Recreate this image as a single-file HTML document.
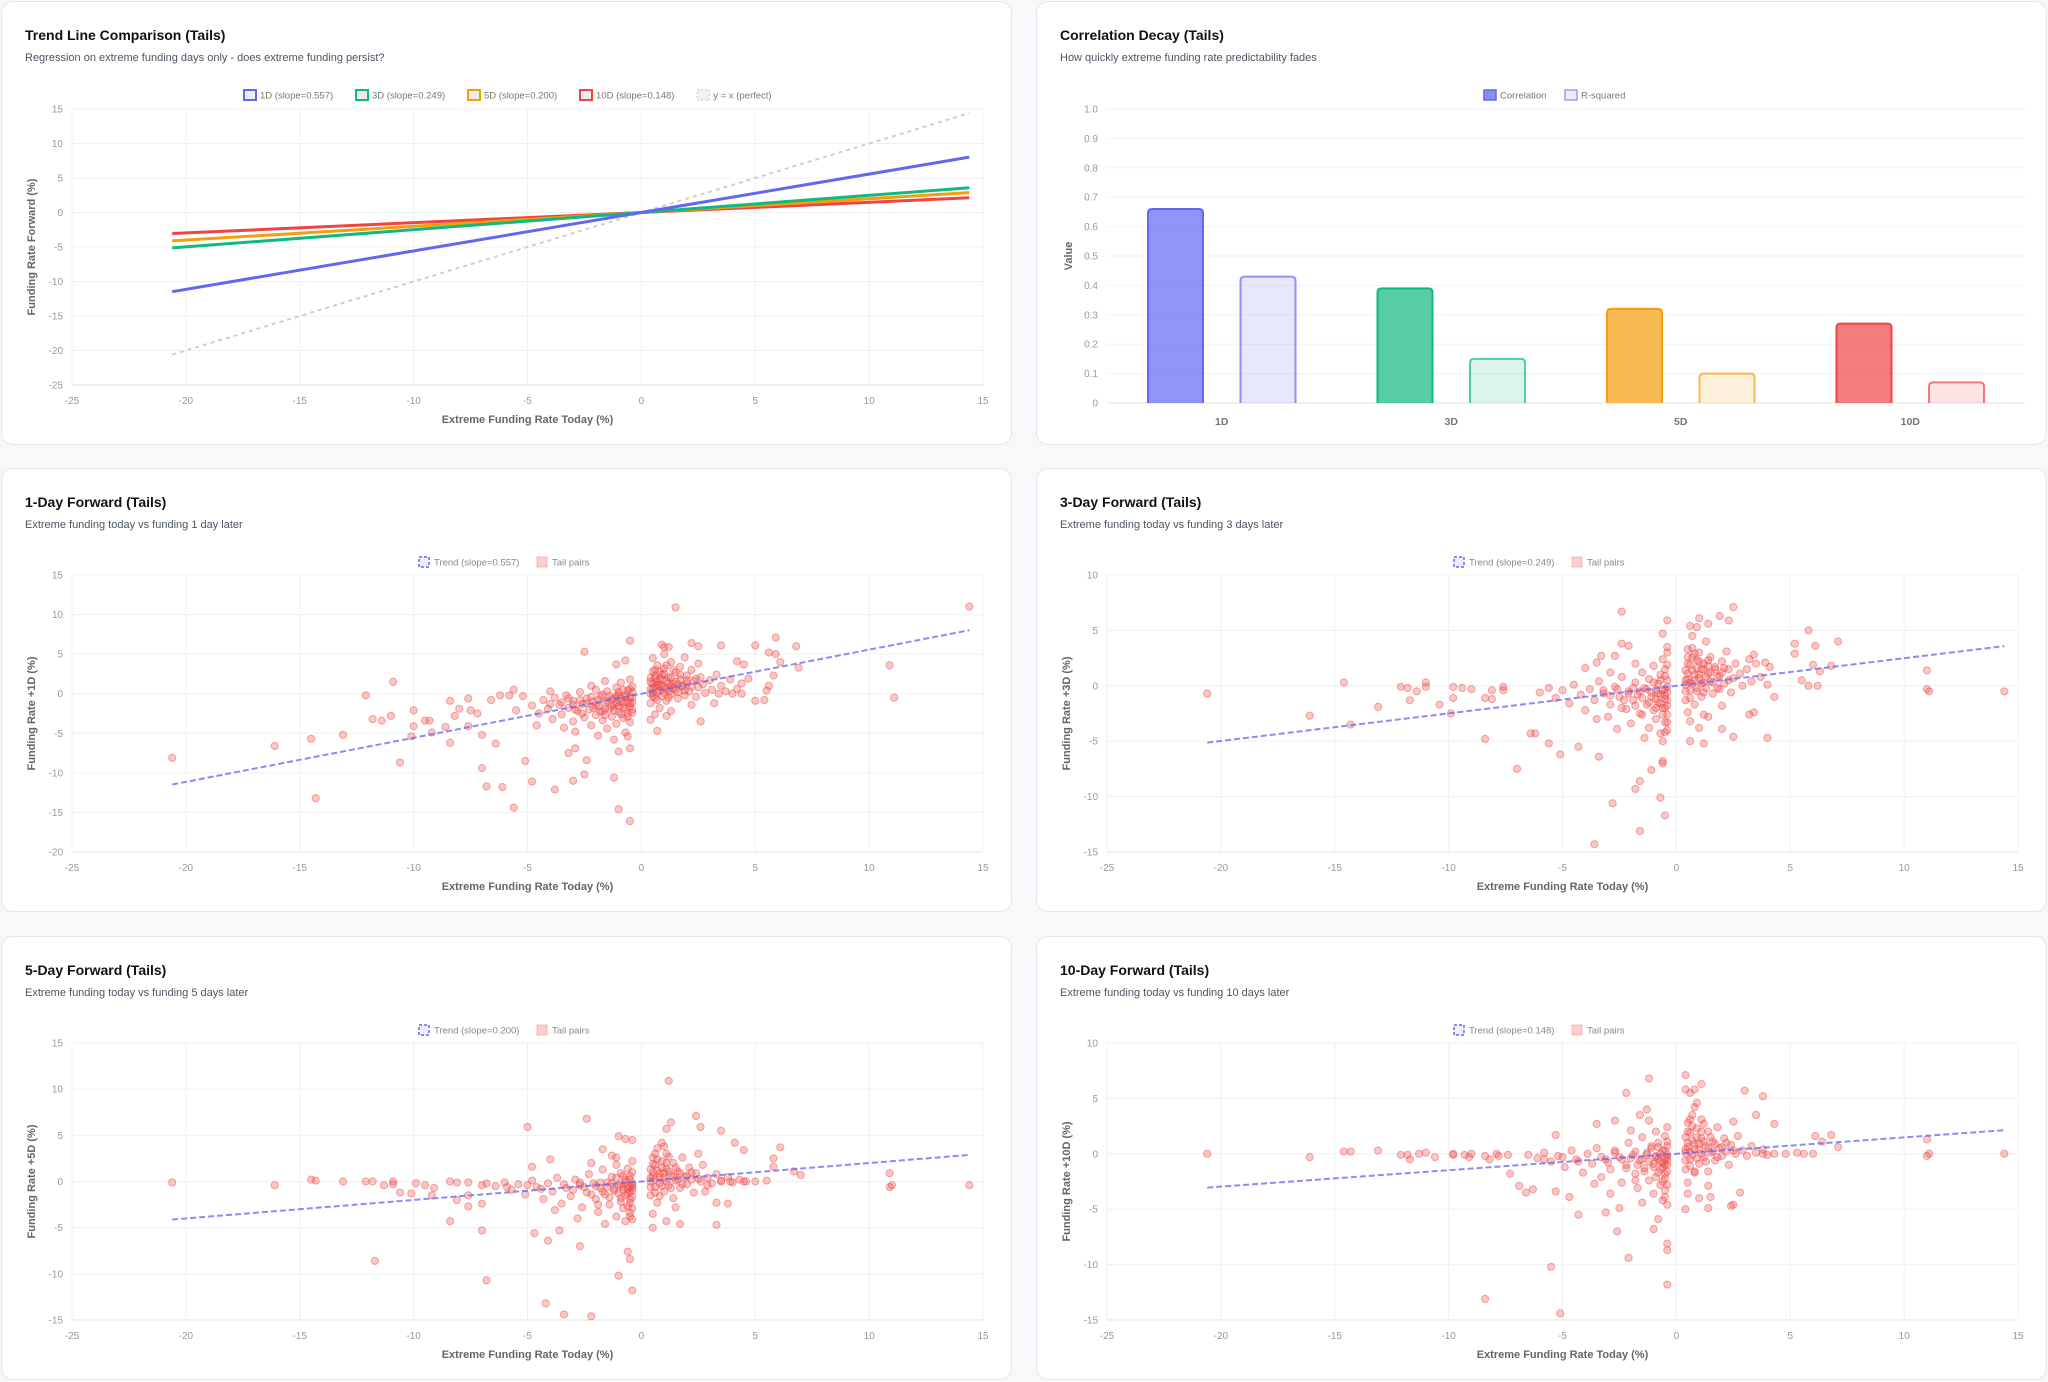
<!DOCTYPE html>
<html><head><meta charset="utf-8"><style>
html,body{margin:0;padding:0;background:#f7f8fa;width:2048px;height:1382px;overflow:hidden;font-family:"Liberation Sans",sans-serif;}
.card{position:absolute;background:#fff;border:1px solid #e3e6ec;border-radius:12px;box-sizing:border-box;width:1011px;height:444px;}
.title{position:absolute;left:23px;top:25px;font-size:14px;font-weight:bold;color:#111;}
.sub{position:absolute;left:23px;top:50px;font-size:11px;color:#4b5563;}
svg{position:absolute;left:0;top:0;}
</style></head><body>
<div class="card" style="left:1px;top:1px"><div class="title">Trend Line Comparison (Tails)</div><div class="sub">Regression on extreme funding days only - does extreme funding persist?</div><svg id="c0" width="1011" height="444"></svg></div>
<div class="card" style="left:1036px;top:1px"><div class="title">Correlation Decay (Tails)</div><div class="sub">How quickly extreme funding rate predictability fades</div><svg id="c1" width="1011" height="444"></svg></div>
<div class="card" style="left:1px;top:468px"><div class="title">1-Day Forward (Tails)</div><div class="sub">Extreme funding today vs funding 1 day later</div><svg id="s1" width="1011" height="444"></svg></div>
<div class="card" style="left:1036px;top:468px"><div class="title">3-Day Forward (Tails)</div><div class="sub">Extreme funding today vs funding 3 days later</div><svg id="s3" width="1011" height="444"></svg></div>
<div class="card" style="left:1px;top:936px"><div class="title">5-Day Forward (Tails)</div><div class="sub">Extreme funding today vs funding 5 days later</div><svg id="s5" width="1011" height="444"></svg></div>
<div class="card" style="left:1036px;top:936px"><div class="title">10-Day Forward (Tails)</div><div class="sub">Extreme funding today vs funding 10 days later</div><svg id="s10" width="1011" height="444"></svg></div>
<script>
var horizons=['1D','3D','5D','10D'];
var slopes=[0.557,0.249,0.200,0.148];
var colors=['#6366f1','#10b981','#f59e0b','#ef4444'];
var trendXRange=[-20.6,14.4];
var xTicks=[-25,-20,-15,-10,-5,0,5,10,15];
var corrValues=[0.66,0.39,0.32,0.27];
var r2Values=[0.43,0.15,0.10,0.07];
var barTicks=[0,0.1,0.2,0.3,0.4,0.5,0.6,0.7,0.8,0.9,1.0];
var trendYTicks=[15,10,5,0,-5,-10,-15,-20,-25];
var yTicks1=[15,10,5,0,-5,-10,-15,-20];
var yTicks3=[10,5,0,-5,-10,-15];
var yTicks5=[15,10,5,0,-5,-10,-15];
var yTicks10=[10,5,0,-5,-10,-15];
var pts1=[-20.6,-8.1,-16.1,-6.6,-14.5,-5.7,-14.3,-13.2,-13.1,-5.2,-12.1,-0.2,-10.9,1.5,-11.8,-3.2,-11.4,-3.4,-11,-2.8,-10.6,-8.7,-10,-2.1,-10,-4.1,-9.5,-3.4,-9.3,-3.4,-10.1,-5.4,-9.2,-4.9,-8.6,-4.2,-8.4,-0.9,-8.4,-6.2,-8.2,-2.8,-8,-1.9,-7.6,-0.6,-7.5,-2.1,-7.6,-4.1,-7.2,-2.5,-7,-5.2,-7,-9.4,-6.8,-11.7,-6.1,-11.8,-6.6,-0.8,-6.2,-0.2,-5.8,-0.2,-5.6,0.5,-6.4,-6.3,-5.6,-14.4,-5.1,-8.5,-4.8,-11.1,-3.8,-12.1,-3,-11,-2.5,-10.2,-1.2,-10.6,-1,-14.6,-0.5,-16.1,-2.5,5.3,-0.5,6.7,-0.7,4.2,-1.1,3.7,-3.2,-7.5,-2.9,-6.9,-2.4,-8.4,-1,-7.3,-0.5,-6.9,1.5,10.9,14.4,11,10.9,3.6,11.1,-0.5,5.9,7.1,6.8,6,5,6.1,3.5,6.1,2.2,6.4,2.5,6,0.9,6.2,1,5.9,1.2,5.9,5.6,5.2,5.9,5,6.1,4,6.9,3.3,5.8,2.3,5.6,1,5.5,0.4,5,-0.9,5.4,-0.8,4.7,1.9,4.2,4.1,4.5,3.7,3.2,-1.2,2.6,-3.5,0.7,-4.7,1.1,-2.8,0.4,-3.3,3.4,0,4,0,4.4,0,
-4.8,-1.5,-4.5,-2.5,-4.3,-0.8,-4.1,-1.9,-3.9,-3.2,-3.8,-0.5,-3.6,-1.4,-3.5,-2.6,-3.3,-0.2,-3.2,-1.8,-3.0,-3.5,-3.0,-0.9,-2.8,-2.2,-2.7,0.2,-2.6,-1.3,-2.5,-3.0,-2.4,-0.6,-2.3,-2.0,-2.2,-4.0,-2.1,-1.0,-2.0,0.5,-2.0,-2.7,-1.9,-1.6,-1.8,-0.3,-1.7,-3.4,-1.7,-2.2,-1.6,-1.1,-1.5,0.3,-1.5,-4.4,-1.4,-1.9,-1.3,-0.7,-1.3,-2.9,-1.2,-1.4,-1.1,0.8,-1.1,-3.8,-1.0,-0.2,-1.0,-2.3,-0.9,-1.0,-0.9,1.4,-0.8,-3.1,-0.8,-1.7,-0.7,-0.4,-0.7,-4.9,-0.6,0.4,-0.6,-2.5,-0.5,-1.2,-0.5,1.8,-0.5,-3.6,-0.4,-0.5,-0.4,-2.0,-0.4,0.9,-3.4,-4.3,-2.9,-4.8,-2.2,1.0,-1.6,1.6,-4.0,0.3,-5.2,-0.3,-5.5,-2.1,-4.6,-4.0,-1.9,-5.3,-1.2,-5.8,-0.6,-5.4,
0.4,0.0,0.4,1.5,0.4,-1.2,0.5,2.8,0.5,0.7,0.6,-0.5,0.6,1.9,0.7,3.6,0.7,0.2,0.8,1.1,0.8,-1.8,0.9,2.4,0.9,-0.3,1.0,0.8,1.0,3.2,1.1,1.6,1.1,-0.9,1.2,0.3,1.2,2.1,1.3,4.0,1.3,-0.1,1.4,1.2,1.5,2.7,1.5,0.5,1.6,-0.6,1.7,1.8,1.7,3.4,1.8,0.9,1.9,-0.2,2.0,2.3,2.0,1.3,2.1,0.3,2.2,3.0,2.3,1.6,2.4,-0.4,2.5,0.8,2.6,2.1,2.7,1.2,2.8,0.1,3.0,1.7,3.1,0.5,3.3,2.4,3.5,1.0,3.7,0.3,3.9,1.8,4.2,0.6,4.4,1.3,0.5,4.5,1.0,5.0,1.9,4.6,2.5,3.8,0.6,-2.6,1.3,-2.2,2.2,-1.4,
-2.4,-1.2,-2.2,-0.4,-2.0,-1.5,-1.9,-0.8,-1.8,-2.3,-1.7,-0.1,-1.6,-1.9,-1.5,-0.9,-1.4,-0.3,-1.3,-1.6,-1.2,-2.1,-1.2,-0.6,-1.1,-1.2,-1.0,0.2,-1.0,-1.6,-0.9,-0.6,-0.9,-2.6,-0.8,-1.1,-0.8,0.5,-0.7,-1.9,-0.7,-0.2,-0.6,-1.0,-0.6,-2.9,-0.5,-0.5,-0.5,0.6,-0.5,-1.6,-0.4,-1.1,-0.4,-2.4,-0.4,0.2,-3.0,-1.4,-2.7,-0.8,-3.5,-1.1,-2.9,-2.0,-4.0,-1.3,-3.2,-0.6,-2.6,-2.5,-2.1,-1.8,-1.6,-2.7,-1.1,-0.3,
0.4,0.6,0.5,1.3,0.5,-0.3,0.6,0.9,0.6,2.3,0.7,1.5,0.7,-0.8,0.8,0.4,0.8,2.8,0.9,1.0,0.9,1.8,1.0,0.1,1.0,2.5,1.1,0.6,1.2,1.3,1.2,-0.5,1.3,2.0,1.4,0.7,1.4,3.0,1.5,1.5,1.6,0.2,1.7,2.4,1.8,1.0,1.9,0.4,2.0,1.7,2.2,0.9,2.4,1.9,0.4,2.0,0.6,3.0,1.1,3.6,0.5,0.1,0.7,1.1,1.3,0.9,1.6,1.2,0.8,1.9];
var pts3=[-20.6,-0.7,-16.1,-2.7,-14.6,0.3,-14.3,-3.5,-13.1,-1.9,-12.1,-0.1,-11.8,-0.2,-11.4,-0.5,-11,0.3,-11,-0.1,-11.7,-1.3,-10.4,-1.7,-9.8,-0.1,-9.8,-1.1,-9.4,-0.2,-9,-0.3,-9.9,-2.5,-8.4,-4.8,-8.4,-1.1,-8.1,-0.4,-8.1,-1.2,-7.6,-0.1,-7.6,-0.4,-7,-7.5,-6.4,-4.3,-6.2,-4.3,-5.6,-5.2,-5.1,-6.2,-4.3,-5.5,-3.4,-6.4,-2.8,-10.6,-3.6,-14.3,-1.6,-13.1,-1.8,-9.3,-1.6,-8.6,-0.7,-10.1,-0.5,-11.7,-1.1,-7.6,-0.6,-7,-0.6,-6.8,-2.4,6.7,-0.4,5.9,-0.6,4.7,-0.4,3.5,-2.4,3.8,-2.1,3.6,-4,1.6,-3.5,2.1,-3.3,2.7,-2.7,2.7,1,6.1,0.6,5.4,0.9,5.3,1.4,5.6,1.9,6.3,2.3,5.9,2.5,7.1,5.8,5,5.2,3.8,5.2,2.9,6.1,3.6,7.1,4,6,1.9,6.3,1.3,6.8,1.8,5.5,0.5,5.8,0,6.2,0,11,1.4,11,-0.3,11.1,-0.5,14.4,-0.5,4,-4.7,2.5,-4.6,2,-3.9,0.6,-5,1.2,-5.2,1.4,-2.8,3.2,-2.6,3.4,-2.4,4.3,-1,4.1,1.7,3.9,2.1,3.4,2.8,3.2,2.4,
-6.0,-0.6,-5.6,-0.2,-5.3,-1.1,-5.0,-0.4,-4.7,-1.6,-4.5,0.1,-4.2,-0.8,-4.0,-2.2,-3.8,-0.3,-3.6,-1.3,-3.4,0.4,-3.2,-0.7,-3.0,-2.8,-2.9,-1.7,-2.7,-0.1,-2.5,-1.0,-2.4,0.8,-2.2,-2.1,-2.1,-0.5,-2.0,-3.4,-1.9,-1.3,-1.8,0.3,-1.7,-0.8,-1.6,-2.5,-1.5,1.2,-1.4,-0.2,-1.3,-1.7,-1.2,-3.8,-1.2,0.6,-1.1,-1.0,-1.0,-2.2,-1.0,1.8,-0.9,-0.4,-0.9,-3.0,-0.8,0.2,-0.8,-1.5,-0.7,-4.3,-0.7,-0.8,-0.7,1.0,-0.6,-2.0,-0.6,2.4,-0.6,-5.0,-0.5,-0.3,-0.5,-1.2,-0.5,-3.3,-0.5,1.5,-0.4,-0.6,-0.4,-2.6,-0.4,0.5,-0.4,-4.0,-0.4,-1.8,-0.4,3.0,-1.4,-4.7,-2.6,-3.9,-3.5,-3.0,-1.8,2.0,-2.9,1.2,
0.4,0.1,0.4,1.4,0.4,-1.3,0.5,2.6,0.5,0.6,0.5,-2.4,0.6,-0.4,0.6,1.9,0.7,3.4,0.7,0.2,0.8,1.0,0.8,-1.7,0.9,2.3,0.9,-0.5,1.0,0.7,1.0,3.0,1.1,1.5,1.1,-1.0,1.2,0.3,1.2,2.0,1.3,-0.2,1.3,4.0,1.4,1.1,1.5,2.6,1.5,0.4,1.6,-0.7,1.7,1.7,1.8,0.8,1.9,-0.3,2.0,2.2,2.0,1.2,2.1,0.2,2.2,3.1,2.3,1.5,2.4,-0.6,2.5,0.7,2.6,2.0,2.8,1.1,2.9,0.0,3.1,1.5,3.3,0.4,3.5,2.0,3.7,0.8,4.0,0.1,0.6,-3.2,1.2,-2.6,2.0,-1.8,0.7,4.5,1.0,-3.8,
-3.2,-0.4,-2.9,-0.9,-2.6,-0.3,-2.3,-1.3,-2.1,-0.7,-1.9,-0.2,-1.8,-1.8,-1.6,-0.5,-1.5,-1.1,-1.3,-0.3,-1.2,-1.5,-1.1,-0.6,-1.0,0.3,-0.9,-1.2,-0.9,-2.0,-0.8,-0.7,-0.7,0.5,-0.7,-1.6,-0.6,-0.4,-0.6,-2.6,-0.5,-0.9,-0.5,0.9,-0.5,-2.0,-0.4,-1.3,-0.4,-0.1,-0.4,-3.3,-0.4,1.9,-0.5,-4.2,-1.5,-2.6,-2.4,-2.0,
0.4,0.5,0.4,-0.5,0.5,1.1,0.5,2.0,0.6,0.3,0.6,-1.1,0.7,1.4,0.7,2.6,0.8,0.5,0.9,1.6,0.9,-0.2,1.0,1.0,1.0,2.2,1.1,0.2,1.2,1.5,1.2,-0.6,1.3,0.8,1.4,2.3,1.5,1.2,1.6,0.3,1.7,1.5,1.8,-0.2,1.9,0.9,2.1,1.6,2.3,0.5,0.5,3.3,0.8,2.9,1.4,1.8];
var pts5=[-20.6,-0.1,-16.1,-0.4,-14.5,0.2,-14.3,0.1,-13.1,0,-12.1,0,-11.8,0,-11.3,-0.4,-10.9,0,-10.9,-0.3,-10.6,-1.2,-10.1,-1.3,-9.9,-0.2,-9.5,-0.4,-9.2,-1.5,-9.1,-0.7,-11.7,-8.6,-8.4,-4.3,-6.8,-10.7,-7,-5.3,-8.4,0,-8.1,-0.1,-7.6,-0.1,-7,-0.4,-7.6,-2.7,-7,-2.4,-8.1,-2,-7.6,-1.5,-5,5.9,-2.4,6.8,-4,2.4,-4.8,1.6,-4.2,-13.2,-3.4,-14.4,-2.2,-14.6,-1,-10.2,-0.4,-11.8,-0.5,-8.4,-0.6,-7.6,-4.1,-6.4,-2.7,-7,-4.7,-5.6,-3.6,-5.3,-1,4.9,-0.7,4.6,-0.4,4.5,-1.7,3.5,-1.1,2.6,1.2,10.9,2.4,7.1,1.3,6.4,1.1,5.7,2.6,5.9,3.5,5.5,4.1,4.2,4.5,3.4,6.1,3.7,5.8,2.5,5.8,1.6,7,0.7,6.7,1.1,10.9,0.9,10.9,-0.6,11,-0.4,14.4,-0.4,3.3,-4.7,3.8,-2.4,3.3,-2.3,1.7,-4.6,1.1,-4.3,0.5,-5,2.8,-1.1,2.9,-0.4,4.5,0,5,0,5.5,0.1,3.9,0,3.5,0,
-6.8,-0.2,-6.4,-0.5,-6.0,-0.1,-5.7,-0.9,-5.4,-0.3,-5.1,-1.4,-4.8,0.1,-4.6,-0.6,-4.3,-1.9,-4.1,-0.2,-3.9,-1.1,-3.7,0.4,-3.5,-2.4,-3.3,-0.7,-3.1,-1.6,-2.9,0.2,-2.7,-0.4,-2.6,-2.8,-2.4,-1.2,-2.3,0.8,-2.1,-0.2,-2.0,-1.9,-1.9,-3.3,-1.8,-0.7,-1.7,1.3,-1.6,-1.4,-1.5,-0.1,-1.4,-2.5,-1.3,0.5,-1.2,-1.0,-1.1,-3.8,-1.1,1.8,-1.0,-0.4,-0.9,-1.8,-0.9,0.9,-0.8,-2.9,-0.8,-0.9,-0.7,0.2,-0.7,-4.3,-0.6,-1.3,-0.6,1.4,-0.5,-0.5,-0.5,-2.3,-0.5,-3.4,-0.5,0.6,-0.4,-1.0,-0.4,-4.1,-0.4,2.2,-0.4,-0.2,-0.4,-1.7,-2.8,-4.0,-1.6,-4.6,-3.8,-3.1,-2.2,2.0,-1.3,2.8,
0.4,0.0,0.4,1.3,0.4,-1.5,0.5,2.6,0.5,0.5,0.6,-0.6,0.6,1.8,0.7,3.6,0.7,-2.3,0.8,0.9,0.8,-0.2,0.9,2.2,1.0,0.4,1.0,-1.1,1.1,1.4,1.1,3.0,1.2,-0.4,1.3,0.7,1.4,2.0,1.4,-1.8,1.5,0.1,1.6,1.1,1.7,-0.7,1.8,2.6,1.9,0.5,2.0,-0.3,2.1,1.5,2.2,0.2,2.3,-1.2,2.4,0.9,2.6,0.0,2.7,1.8,2.9,0.4,3.1,-0.2,3.3,0.8,3.5,0.1,3.8,0.5,4.0,-0.1,4.3,0.2,4.6,0.0,0.5,-3.5,1.0,3.8,1.5,-2.8,2.5,3.0,0.9,4.2,
-3.4,-0.3,-3.0,-0.9,-2.7,-0.1,-2.5,-0.6,-2.2,-1.4,-2.0,-0.5,-1.8,-0.1,-1.7,-1.1,-1.5,-0.6,-1.4,-1.7,-1.3,-0.2,-1.2,-0.8,-1.1,0.4,-1.0,-1.3,-0.9,-0.3,-0.9,-2.2,-0.8,-0.6,-0.8,0.6,-0.7,-1.5,-0.7,-0.1,-0.6,-0.8,-0.6,-2.7,-0.5,-1.1,-0.5,0.2,-0.5,-1.9,-0.4,-0.7,-0.4,-2.9,-0.4,1.0,-0.4,-0.4,-0.5,-3.8,-1.9,-2.5,-4.4,-0.8,-5.0,-0.4,-5.9,-0.6,
0.4,0.4,0.4,-0.6,0.5,1.0,0.5,1.9,0.6,0.2,0.6,-1.2,0.7,1.2,0.7,2.4,0.8,0.4,0.9,1.5,0.9,-0.5,1.0,0.9,1.1,2.0,1.1,0.0,1.2,1.1,1.3,-0.7,1.4,0.5,1.5,1.5,1.6,0.2,1.7,0.9,1.8,-0.3,2.0,0.6,2.2,1.0,2.5,0.3,0.6,3.0,1.2,2.7,0.8,-1.6];
var pts10=[-20.6,0,-16.1,-0.3,-14.6,0.2,-14.3,0.2,-13.1,0.3,-12.1,-0.1,-11.8,-0.1,-11.7,-0.5,-11.3,0,-11,0.1,-10.6,-0.3,-9.8,0,-9.8,-0.1,-9.3,-0.1,-9,0,-9.1,-0.3,-8.4,-0.2,-7.9,0,-8.2,-0.5,-7.4,-0.1,-7.3,-1.8,-7.8,-0.2,-8.4,-13.1,-5.1,-14.4,-5.5,-10.2,-2.1,-9.4,-0.4,-11.8,-0.4,-8.7,-0.4,-8.1,-1,-6.8,-2.6,-7,-0.8,-5.9,-6.9,-2.9,-6.6,-3.5,-6.3,-3.2,-5.3,-3.4,-4.7,-3.9,-4.3,-5.5,-3.1,-5.3,-2.5,-4.9,-5.3,1.7,-3.5,2.7,-2.7,3,-2.2,5.5,-1.3,4,-1.2,6.8,-1.6,3.5,0.4,7.1,0.4,5.8,0.6,5.5,0.8,5.8,1.1,6.3,0.9,4.6,3,5.7,3.8,5.2,3.5,3.5,4.3,2.7,1.4,-4.9,0.4,-5,2.4,-4.7,2.5,-4.6,2.8,-3.5,1.5,-3.9,6.1,1.6,6.8,1.7,7.1,0.6,6.4,1.1,11,1.3,11.1,0,11,-0.2,14.4,0,4.3,0,4.8,0,5.3,0.1,5.6,0,6,0,3.8,0,
-6.5,-0.1,-6.1,-0.4,-5.8,0.1,-5.5,-0.7,-5.2,-0.2,-4.9,-1.2,-4.6,0.3,-4.4,-0.5,-4.1,-1.7,-3.9,0.0,-3.7,-0.9,-3.5,0.5,-3.3,-2.1,-3.1,-0.5,-2.9,-1.4,-2.7,0.3,-2.5,-0.3,-2.4,-2.6,-2.2,-1.0,-2.1,1.0,-1.9,-0.1,-1.8,-1.8,-1.7,-3.1,-1.6,-0.6,-1.5,1.5,-1.4,-1.3,-1.3,0.1,-1.2,-2.4,-1.1,0.7,-1.0,-0.9,-1.0,-3.6,-0.9,2.0,-0.9,-0.3,-0.8,-1.7,-0.8,1.0,-0.7,-2.8,-0.7,-0.7,-0.6,0.3,-0.6,-4.2,-0.6,-1.2,-0.5,1.6,-0.5,-0.4,-0.5,-2.2,-0.5,-3.3,-0.4,0.7,-0.4,-1.0,-0.4,-4.6,-0.4,2.4,-0.4,-0.1,-0.4,-1.6,-2.9,-3.6,-1.5,-4.4,-3.6,-2.7,-2.0,2.1,-1.2,3.0,
0.4,0.1,0.4,1.5,0.4,-1.4,0.5,2.8,0.5,0.6,0.5,-2.6,0.6,-0.5,0.6,1.9,0.7,3.5,0.7,-0.1,0.8,0.9,0.8,-1.7,0.9,2.3,1.0,0.4,1.0,-0.9,1.1,1.4,1.1,3.1,1.2,-0.3,1.3,0.7,1.4,2.0,1.4,-1.6,1.5,0.1,1.6,1.1,1.7,-0.6,1.8,2.4,1.9,0.5,2.0,-0.2,2.1,1.4,2.2,0.2,2.3,-1.0,2.4,0.8,2.6,0.0,2.7,1.6,2.9,0.3,3.1,-0.2,3.3,0.7,3.5,0.1,3.8,0.4,4.0,-0.1,0.5,-3.6,0.8,4.2,1.4,-2.9,2.5,2.9,1.0,-4.0,
-3.3,-0.3,-3.0,-0.8,-2.7,0.1,-2.4,-0.5,-2.2,-1.3,-2.0,-0.4,-1.8,0.2,-1.7,-1.0,-1.5,-0.5,-1.4,-1.6,-1.3,-0.1,-1.2,-0.7,-1.1,0.5,-1.0,-1.2,-0.9,-0.2,-0.9,-2.1,-0.8,-0.5,-0.8,0.6,-0.7,-1.4,-0.7,0.0,-0.6,-0.8,-0.6,-2.5,-0.5,-1.0,-0.5,0.3,-0.5,-1.8,-0.4,-0.6,-0.4,-2.8,-0.4,1.1,-0.4,-0.3,-0.5,-3.9,-1.8,-2.4,-4.3,-0.7,-5.0,-0.3,-5.8,-0.5,
0.4,0.4,0.4,-0.6,0.5,1.0,0.5,2.0,0.6,0.2,0.6,-1.1,0.7,1.2,0.7,2.5,0.8,0.4,0.9,1.5,0.9,-0.4,1.0,0.9,1.1,2.0,1.1,0.0,1.2,1.1,1.3,-0.7,1.4,0.5,1.5,1.5,1.6,0.2,1.7,0.9,1.8,-0.3,2.0,0.6,2.2,1.0,2.5,0.3,0.6,3.1,1.2,2.7,0.8,-1.6];

var NS='http://www.w3.org/2000/svg';
function mk(svg,tag,attrs,name){var e=document.createElementNS(NS,tag);for(var k in attrs)e.setAttribute(k,attrs[k]);


svg.appendChild(e);return e;}
function txt(svg,x,y,s,attrs,name){var t=mk(svg,'text',Object.assign({x:x,y:y,'font-family':'Liberation Sans, sans-serif'},attrs),name);t.textContent=s;return t;}

function axes(svg,L,R,T,B,xmin,xmax,yt,ylabel){
  var ymax=yt[0],ymin=yt[yt.length-1];
  var sx=function(v){return L+(v-xmin)/(xmax-xmin)*(R-L);};
  var sy=function(v){return B-(v-ymin)/(ymax-ymin)*(B-T);};
  xTicks.forEach(function(v){mk(svg,'line',{x1:sx(v),x2:sx(v),y1:T,y2:B,stroke:'#f0f0f0'},'x-gridline');
    txt(svg,sx(v),B+19,String(v),{'font-size':10,fill:'#999','text-anchor':'middle'},'x-tick-label');});
  yt.forEach(function(v){mk(svg,'line',{x1:L,x2:R,y1:sy(v),y2:sy(v),stroke:v===ymin?'#e2e2e2':'#f0f0f0'},'y-gridline');
    txt(svg,L-9,sy(v)+3.5,String(v),{'font-size':10,fill:'#999','text-anchor':'end'},'y-tick-label');});
  txt(svg,(L+R)/2,B+38,'Extreme Funding Rate Today (%)',{'font-size':11,'font-weight':'bold',fill:'#666','text-anchor':'middle'},'x-axis-title');
  txt(svg,0,0,ylabel,{'font-size':11,'font-weight':'bold',fill:'#666','text-anchor':'middle',transform:'translate('+(L-37)+','+((T+B)/2)+') rotate(-90)'},'y-axis-title');
  return {sx:sx,sy:sy};
}

(function(){
  var svg=document.getElementById('c0');
  var a=axes(svg,70,981,107,383,-25,15,trendYTicks,'Funding Rate Forward (%)');
  mk(svg,'line',{x1:a.sx(trendXRange[0]),y1:a.sy(trendXRange[0]),x2:a.sx(trendXRange[1]),y2:a.sy(trendXRange[1]),stroke:'#cfcfcf','stroke-width':2,'stroke-dasharray':'4,4'},'perfect-line');
  for(var i=3;i>=0;i--){
    mk(svg,'line',{x1:a.sx(trendXRange[0]),y1:a.sy(trendXRange[0]*slopes[i]),x2:a.sx(trendXRange[1]),y2:a.sy(trendXRange[1]*slopes[i]),stroke:colors[i],'stroke-width':3},'trend-line-'+horizons[i].toLowerCase());
  }
  var labels=horizons.map(function(h,i){return h+' (slope='+slopes[i].toFixed(3)+')';}).concat(['y = x (perfect)']);
  var x=242;
  labels.forEach(function(l,i){
    var c=i<4?colors[i]:'#ddd';
    mk(svg,'rect',{x:x,y:88,width:12,height:10,fill:i<4?'#eee':'#f3f3f3',stroke:c,'stroke-width':2,'stroke-dasharray':i<4?'none':'2,2'},'legend-swatch');
    txt(svg,x+16,96.5,l,{'font-size':9.5,fill:'#777'},'legend-entry');
    x+=16+l.length*5.25+12;
  });
})();

(function(){
  var svg=document.getElementById('c1');
  var L=70,R=988,T=107,B=401;
  var sy=function(v){return B-v*(B-T);};
  barTicks.forEach(function(v){mk(svg,'line',{x1:L,x2:R,y1:sy(v),y2:sy(v),stroke:v===0?'#e2e2e2':'#f2f2f2'},'y-gridline');
    txt(svg,L-9,sy(v)+3.5,v===0||v===1?(v===1?'1.0':'0'):v.toFixed(1),{'font-size':10,fill:'#999','text-anchor':'end'},'y-tick-label');});
  txt(svg,0,0,'Value',{'font-size':11,'font-weight':'bold',fill:'#666','text-anchor':'middle',transform:'translate('+(L-35)+','+((T+B)/2)+') rotate(-90)'},'y-axis-title');
  var bw=(R-L)/4;
  function bar(cx,v,fill,stroke,name){var w=55,y=sy(v),x=cx-w/2,r=4;
    mk(svg,'path',{d:'M'+x+','+B+'V'+(y+r)+'Q'+x+','+y+' '+(x+r)+','+y+'H'+(x+w-r)+'Q'+(x+w)+','+y+' '+(x+w)+','+(y+r)+'V'+B,fill:fill,stroke:stroke,'stroke-width':2},name);}
  horizons.forEach(function(h,i){
    var bx=L+i*bw;
    bar(bx+68.5,corrValues[i],colors[i]+'b3',colors[i],'bar-corr-'+h.toLowerCase());
    bar(bx+161,r2Values[i],colors[i]+'26',colors[i]+'b3','bar-r2-'+h.toLowerCase());
    txt(svg,bx+bw/2,B+22,h,{'font-size':10.5,'font-weight':'bold',fill:'#777','text-anchor':'middle'},'x-tick-label');
  });
  mk(svg,'rect',{x:447,y:88,width:12,height:10,fill:'#8b8df3',stroke:'#6366f1','stroke-width':1.5},'legend-swatch');
  txt(svg,463,96.5,'Correlation',{'font-size':9.5,fill:'#777'},'legend-entry');
  mk(svg,'rect',{x:528,y:88,width:12,height:10,fill:'#ececfd',stroke:'#9b9df5','stroke-width':1.5},'legend-swatch');
  txt(svg,544,96.5,'R-squared',{'font-size':9.5,fill:'#777'},'legend-entry');
})();

function scatter(id,pts,slope,yt,lab,legX){
  var svg=document.getElementById(id);
  var a=axes(svg,70,981,106,383,-25,15,yt,'Funding Rate +'+lab+' (%)');
  for(var i=0;i<pts.length;i+=2){
    mk(svg,'circle',{cx:a.sx(pts[i]),cy:a.sy(pts[i+1]),r:3.6,fill:'rgba(239,68,68,0.3)',stroke:'rgba(239,68,68,0.45)','stroke-width':1},'tail-point');
  }
  mk(svg,'line',{x1:a.sx(trendXRange[0]),y1:a.sy(trendXRange[0]*slope),x2:a.sx(trendXRange[1]),y2:a.sy(trendXRange[1]*slope),stroke:'rgba(99,102,241,0.75)','stroke-width':2,'stroke-dasharray':'6,3'},'trend-line');
  mk(svg,'rect',{x:legX,y:88,width:10,height:10,fill:'#eef',stroke:'#6366f1','stroke-width':1.5,'stroke-dasharray':'3,2'},'legend-swatch');
  txt(svg,legX+15,96.5,'Trend (slope='+slope.toFixed(3)+')',{'font-size':9.5,fill:'#888'},'legend-entry');
  mk(svg,'rect',{x:legX+118,y:88,width:10,height:10,fill:'rgba(239,68,68,0.25)',stroke:'rgba(239,68,68,0.3)','stroke-width':1},'legend-swatch');
  txt(svg,legX+133,96.5,'Tail pairs',{'font-size':9.5,fill:'#888'},'legend-entry');
}
scatter('s1',pts1,slopes[0],yTicks1,'1D',417);
scatter('s3',pts3,slopes[1],yTicks3,'3D',417);
scatter('s5',pts5,slopes[2],yTicks5,'5D',417);
scatter('s10',pts10,slopes[3],yTicks10,'10D',417);
</script>
</body></html>
